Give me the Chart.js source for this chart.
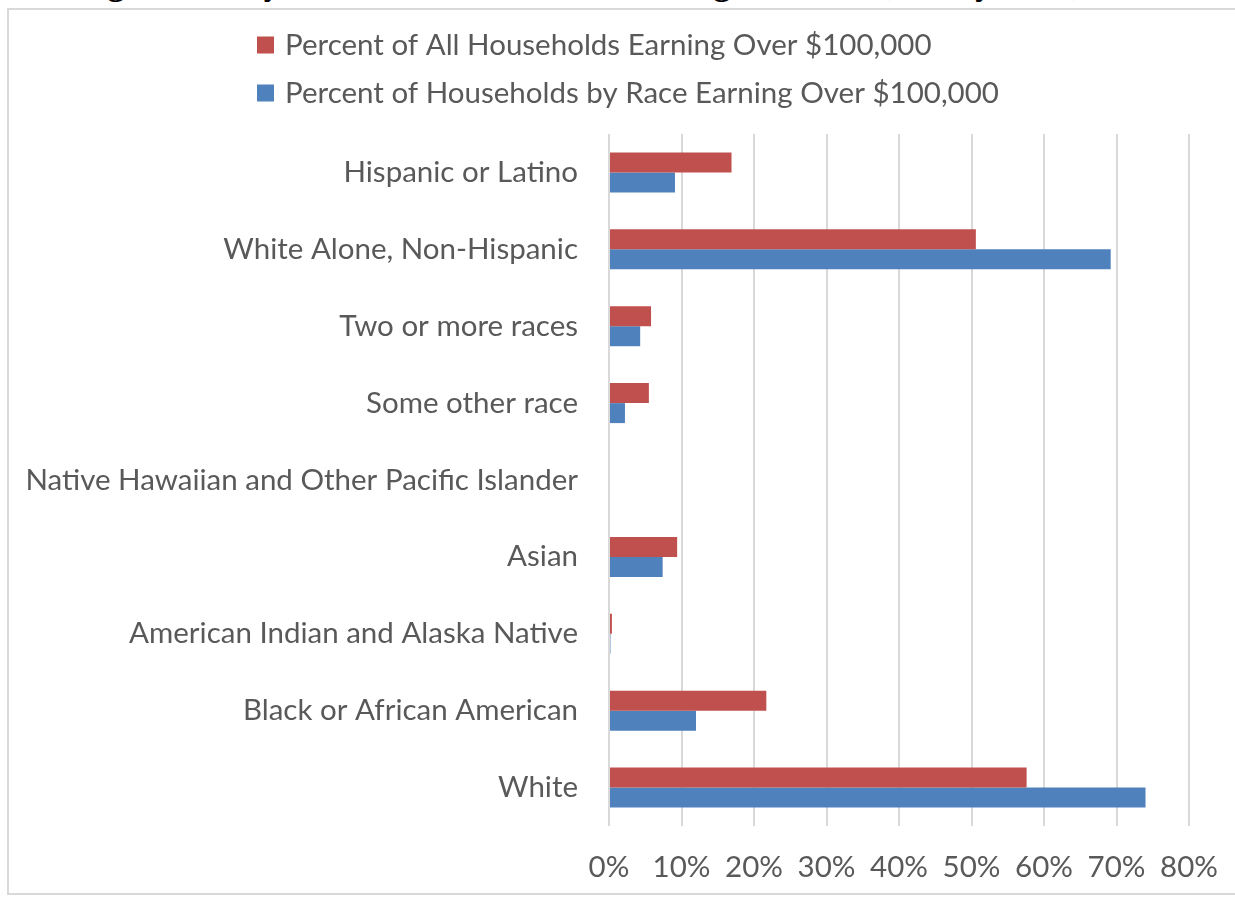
<!DOCTYPE html>
<html>
<head>
<meta charset="utf-8">
<script src="https://cdn.jsdelivr.net/npm/chart.js@4"></script>
<style>
  html, body { margin: 0; padding: 0; background: #fff; overflow: hidden; }
  #wrap { position: relative; width: 1235px; height: 897px; }
  #frame { position: absolute; left: 7px; top: 8px; width: 1260px; height: 887px; border: 2px solid #d9d9d9; box-sizing: border-box; }
  #title { position: absolute; left: 0; width: 1235px; top: -33px; text-align: center; font-family: "Liberation Serif", "DejaVu Serif", serif; font-weight: bold; font-size: 34px; line-height: 34px; color: #000; white-space: nowrap; }
  canvas { position: absolute; left: 0; top: 0; }
</style>
</head>
<body>
<div id="wrap">
  <div id="frame"></div>
  <div id="title">Figure 4: City of Boston Households Earning Over $100,000 by Race, 2015</div>
  <canvas id="c" width="1235" height="897"></canvas>
</div>
<script>
const categories = [
  "Hispanic or Latino",
  "White Alone, Non-Hispanic",
  "Two or more races",
  "Some other race",
  "Native Hawaiian and Other Pacific Islander",
  "Asian",
  "American Indian and Alaska Native",
  "Black or African American",
  "White"
];
const seriesNames = [
  "Percent of All Households Earning Over $100,000",
  "Percent of Households by Race Earning Over $100,000"
];
const allHouseholds = [16.9, 50.6, 5.8, 5.5, 0, 9.4, 0.4, 21.7, 57.6];
const byRace = [9.1, 69.2, 4.3, 2.2, 0, 7.4, 0.2, 12.0, 74.0];
const xTicks = [0, 10, 20, 30, 40, 50, 60, 70, 80];

const FONT = "Lato";
const FSIZE = 29.5;
const TEXT = "#595959";

const legendPlugin = {
  id: "stackedLegend",
  afterDraw(chart) {
    const ctx = chart.ctx;
    ctx.save();
    ctx.font = FSIZE + "px " + FONT;
    ctx.textBaseline = "middle";
    ctx.textAlign = "left";
    chart.data.datasets.forEach((ds, i) => {
      const cy = 45 + i * 48;
      ctx.fillStyle = ds.backgroundColor;
      ctx.fillRect(257, cy - 8.5, 17, 17);
      ctx.fillStyle = TEXT;
      ctx.fillText(ds.label, 285, cy);
    });
    ctx.restore();
  }
};

new Chart(document.getElementById("c"), {
  type: "bar",
  data: {
    labels: categories,
    datasets: [
      { label: seriesNames[0], data: allHouseholds, backgroundColor: "#C0504D" },
      { label: seriesNames[1], data: byRace, backgroundColor: "#4F81BD" }
    ]
  },
  options: {
    indexAxis: "y",
    responsive: false,
    animation: false,
    events: [],
    layout: { padding: { left: 0, top: 134, right: 46, bottom: 0 } },
    datasets: { bar: { barPercentage: 1.0, categoryPercentage: 0.52 } },
    plugins: { legend: { display: false }, tooltip: { enabled: false } },
    scales: {
      x: {
        min: 0, max: 80,
        afterBuildTicks(scale) { scale.ticks = xTicks.map(v => ({ value: v })); },
        afterFit(scale) { scale.height = 71; scale.paddingRight = 0; scale.paddingLeft = 0; },
        grid: { color: "#d9d9d9", lineWidth: 2, drawTicks: false },
        border: { display: false },
        ticks: { padding: 24, color: TEXT, font: { family: FONT, size: FSIZE }, callback: v => v + "%" }
      },
      y: {
        afterFit(scale) { scale.width = 609; },
        grid: { display: false, drawTicks: false },
        border: { display: false },
        ticks: { padding: 31, color: TEXT, font: { family: FONT, size: FSIZE } }
      }
    }
  },
  plugins: [legendPlugin]
});
</script>
</body>
</html>
